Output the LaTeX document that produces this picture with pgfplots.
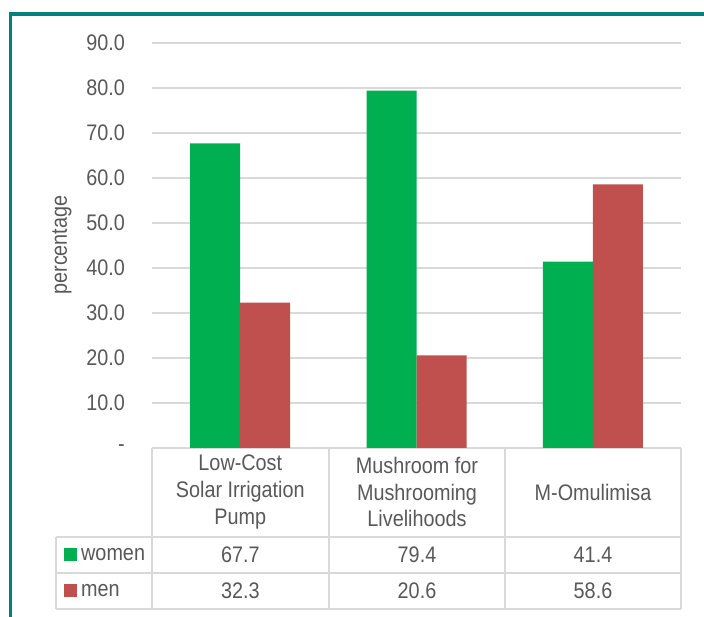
\documentclass[border=0pt]{standalone}
\usepackage{pgfplots}
\pgfplotsset{compat=1.18}
\usepackage{fontspec}
\setmainfont{Liberation Sans}
\newfontfamily\cf[FakeStretch=0.88]{Liberation Sans}
\definecolor{cgreen}{HTML}{00B050}
\definecolor{cred}{HTML}{C0504D}
\definecolor{ctext}{HTML}{595959}
\definecolor{cgrid}{HTML}{D9D9D9}
\definecolor{cteal}{HTML}{00807F}
\newcommand{\tf}{\cf\fontsize{22.5}{26.7}\selectfont\color{ctext}}
\begin{document}
\begin{tikzpicture}[x=1pt,y=1pt]
\useasboundingbox (0,0) rectangle (704,616);
\fill[white] (0,0) rectangle (704,616);
\begin{axis}[
  at={(152pt,168pt)}, anchor=south west,
  scale only axis, width=529pt, height=405pt,
  xmin=0, xmax=3, ymin=0, ymax=90,
  ybar=0pt, bar width=50pt,
  axis line style={draw=none},
  major tick length=0pt,
  xtick=\empty,
  ytick={0,10,20,30,40,50,60,70,80,90},
  yticklabels={{-\hspace{10pt}},10.0,20.0,30.0,40.0,50.0,60.0,70.0,80.0,90.0},
  ymajorgrids, grid style={cgrid, line width=1.5pt},
  yticklabel style={font=\tf, anchor=east, inner sep=0pt, xshift=-27pt},
  clip=false,
]
\addplot[fill=cgreen, draw=none] coordinates {(0.5,67.7) (1.5,79.4) (2.5,41.4)};
\addplot[fill=cred, draw=none] coordinates {(0.5,32.3) (1.5,20.6) (2.5,58.6)};
\end{axis}
% data table
\draw[cgrid, line width=1.5pt] (56,79)--(681,79) (56,43)--(681,43) (56,7)--(681,7);
\draw[cgrid, line width=1.5pt] (56,79)--(56,7) (152,168)--(152,7) (329,168)--(329,7) (505,168)--(505,7) (681,168)--(681,7);
\node[font=\tf, align=center] at (240.3,124) {Low-Cost\\Solar Irrigation\\Pump};
\node[font=\tf, align=center] at (417,124) {Mushroom for\\Mushrooming\\Livelihoods};
\node[font=\tf, align=center] at (593,124) {M-Omulimisa};
\node[font=\tf] at (240.3,61) {67.7};
\node[font=\tf] at (417,61) {79.4};
\node[font=\tf] at (593,61) {41.4};
\node[font=\tf] at (240.3,25) {32.3};
\node[font=\tf] at (417,25) {20.6};
\node[font=\tf] at (593,25) {58.6};
\fill[cgreen] (64,55) rectangle (77,68);
\fill[cred] (64,19) rectangle (77,32);
\node[font=\tf, anchor=west, inner sep=0pt] at (81,61) {women};
\node[font=\tf, anchor=west, inner sep=0pt] at (81,25) {men};
\node[font=\tf, rotate=90] at (62,371) {percentage};
\draw[cteal, line width=3.5pt] (10.5,-5) -- (10.5,602) -- (710,602);
\end{tikzpicture}
\end{document}
